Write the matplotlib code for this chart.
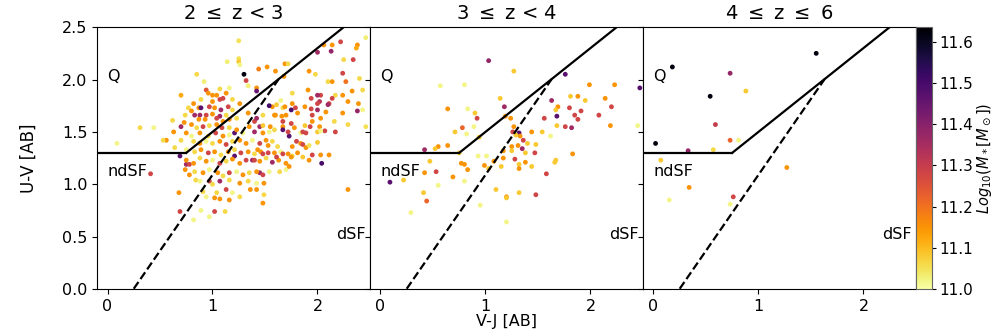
import numpy as np
import matplotlib
matplotlib.use("Agg")
import matplotlib.pyplot as plt

# ---- dados ----
# painel 1: 2 <= z < 3
vj_1 = [1.25, 2.46, 2.22, 2.06, 2.14, 2.00, 2.13, 2.38, 2.37, 2.34, 2.25, 1.25, 1.25, 1.26, 1.14, 1.30,
        1.32, 1.34, 1.42, 1.42, 1.44, 1.52, 1.60, 1.69, 1.72, 1.68, 0.85, 0.92, 0.87, 0.89, 0.83, 0.70,
        1.92, 1.98, 2.10, 2.14, 2.24, 2.27, 2.40, 2.43, 2.33, 2.24, 2.17, 2.14, 2.03, 2.00, 1.94, 1.91,
        1.76, 2.29, 2.39, 2.11, 2.02, 2.38, 2.24, 2.46, 2.16, 1.95, 1.79, 1.67, 1.65, 1.57, 1.54, 2.00,
        1.95, 2.02, 2.07, 2.17, 2.29, 1.93, 1.89, 1.84, 1.78, 1.84, 1.86, 1.76, 1.73, 1.72, 1.75, 1.67,
        1.70, 1.60, 1.75, 2.03, 2.11, 1.92, 1.95, 2.04, 1.89, 2.29, 1.81,
        0.09, 0.31, 0.44, 0.41, 0.62, 0.63, 0.56, 0.53, 0.69, 0.64, 0.75, 0.78, 0.78, 0.84, 0.68, 0.69,
        0.82, 0.89, 0.97, 1.02, 1.12, 1.02, 1.07, 1.16, 1.36, 1.42, 1.48, 1.49, 1.49, 1.45, 1.38, 1.21,
        1.21,
        0.94, 0.96, 1.00, 1.04, 1.07, 1.10, 1.13, 1.16, 0.89, 1.00, 1.07, 1.19, 1.26, 0.82, 0.77, 0.97,
        1.02, 1.08, 1.19, 1.15, 0.74, 0.80, 0.88, 0.94, 1.00, 1.07, 1.13, 0.87, 0.93, 1.04, 1.10, 1.16,
        1.23, 0.70, 0.73, 0.80, 0.85, 0.91, 0.97, 1.04, 1.09, 1.16, 1.23, 1.29, 1.35, 1.40, 1.45, 0.75,
        0.80, 0.88, 0.96, 1.03, 1.10, 1.16, 0.70, 0.82, 0.88, 0.94, 1.00, 1.07, 1.13, 1.19, 1.26, 1.32,
        1.38, 1.45, 1.51, 1.57, 1.62, 1.48, 1.54, 1.59, 1.67, 1.42, 1.34, 1.48, 0.75, 0.83, 0.89, 0.96,
        1.02, 1.08, 1.15, 1.21, 1.27, 1.34, 1.40, 1.46, 1.53, 1.59, 1.65, 1.72, 0.75, 0.82, 0.88, 0.94,
        1.00, 1.07, 1.13, 1.19, 1.26, 1.32, 1.45, 1.51, 1.57, 1.63, 1.70, 1.76, 0.74, 0.83, 0.91, 0.97,
        1.05, 1.10, 1.16, 1.23, 1.29, 1.35, 1.42, 1.48, 1.54, 1.64, 1.70, 1.73, 0.88, 0.97, 1.07, 1.16,
        1.26, 1.34, 1.42, 1.00, 0.91, 0.94, 1.13, 1.19, 1.26, 1.04,
        1.76, 1.81, 1.88, 1.94, 2.00, 2.10, 2.08, 2.43, 2.03, 1.86, 1.88, 2.00, 2.03, 1.80, 1.92, 2.00,
        1.86, 1.75, 1.67, 1.61, 1.48, 1.40, 1.43, 1.53, 1.61, 1.69, 1.59, 1.66, 1.48, 1.40, 1.55, 1.67]
uv_1 = [2.37, 2.40, 2.36, 2.33, 2.33, 2.26, 2.27, 2.33, 2.30, 2.19, 2.19, 2.20, 2.17, 2.14, 2.17, 2.05,
        1.99, 1.94, 1.92, 1.89, 2.10, 2.12, 2.08, 2.15, 2.15, 2.03, 2.05, 1.98, 1.73, 1.73, 1.66, 1.85,
        2.08, 2.05, 1.98, 1.98, 2.06, 1.98, 2.01, 1.90, 1.89, 1.85, 1.85, 1.82, 1.85, 1.85, 1.82, 1.90,
        1.87, 1.79, 1.77, 1.77, 1.79, 1.70, 1.68, 1.55, 1.60, 1.60, 1.73, 1.73, 1.80, 1.74, 1.75, 1.71,
        1.66, 1.55, 1.51, 1.50, 1.57, 1.55, 1.49, 1.49, 1.54, 1.39, 1.38, 1.36, 1.46, 1.50, 1.58, 1.60,
        1.66, 1.66, 1.71, 1.28, 1.28, 1.23, 1.28, 1.20, 1.35, 0.95, 1.30,
        1.39, 1.54, 1.54, 1.10, 1.61, 1.50, 1.42, 1.42, 1.27, 1.35, 1.19, 1.19, 1.09, 1.04, 0.92, 0.74,
        0.66, 0.75, 0.69, 0.74, 0.74, 0.87, 0.86, 0.85, 0.95, 0.95, 0.82, 0.90, 1.01, 1.11, 1.23, 1.27,
        1.49,
        1.90, 1.87, 1.85, 1.85, 1.91, 1.82, 1.87, 1.92, 1.81, 1.79, 1.81, 1.81, 1.77, 1.77, 1.73, 1.74,
        1.73, 1.71, 1.71, 1.74, 1.66, 1.70, 1.66, 1.66, 1.67, 1.65, 1.66, 1.62, 1.62, 1.63, 1.60, 1.62,
        1.63, 1.55, 1.59, 1.57, 1.54, 1.55, 1.56, 1.57, 1.54, 1.54, 1.52, 1.49, 1.55, 1.60, 1.55, 1.49,
        1.46, 1.49, 1.46, 1.49, 1.46, 1.47, 1.42, 1.41, 1.39, 1.41, 1.39, 1.41, 1.38, 1.41, 1.42, 1.39,
        1.42, 1.39, 1.42, 1.41, 1.36, 1.49, 1.50, 1.52, 1.55, 1.63, 1.68, 1.66, 1.33, 1.31, 1.33, 1.30,
        1.31, 1.28, 1.31, 1.33, 1.30, 1.31, 1.29, 1.31, 1.30, 1.30, 1.31, 1.29, 1.23, 1.20, 1.25, 1.22,
        1.23, 1.20, 1.22, 1.24, 1.20, 1.23, 1.22, 1.25, 1.21, 1.23, 1.20, 1.27, 1.14, 1.12, 1.11, 1.14,
        1.11, 1.08, 1.11, 1.12, 1.09, 1.11, 1.12, 1.09, 1.12, 1.12, 1.14, 1.17, 1.03, 1.03, 1.03, 1.04,
        1.01, 1.03, 1.01, 1.00, 0.93, 0.88, 0.95, 0.92, 0.88, 0.92,
        1.77, 1.68, 1.74, 1.72, 1.77, 1.76, 1.69, 1.71, 1.63, 1.50, 1.56, 1.50, 1.51, 1.41, 1.37, 1.40,
        1.26, 1.26, 1.29, 1.26, 1.29, 1.23, 1.33, 1.37, 1.76, 1.74, 1.66, 1.65, 1.56, 1.50, 1.55, 1.52]
lm_1 = [11.05, 11.03, 11.28, 11.15, 11.15, 11.36, 11.38, 11.15, 11.12, 11.28, 11.06, 11.05, 11.08, 11.02, 11.03, 11.62,
        11.28, 11.03, 11.15, 11.45, 11.18, 11.15, 11.15, 11.15, 11.06, 11.15, 11.06, 11.03, 11.15, 11.47, 11.36, 11.12,
        11.15, 11.06, 11.06, 11.15, 11.28, 11.20, 11.06, 11.06, 11.15, 11.15, 11.06, 11.28, 11.28, 11.36, 11.28, 11.15,
        11.06, 11.15, 11.15, 11.28, 11.32, 11.38, 11.15, 11.05, 11.06, 11.15, 11.28, 11.06, 11.02, 11.15, 11.50, 11.36,
        11.28, 11.15, 11.28, 11.28, 11.06, 11.28, 11.28, 11.02, 11.15, 11.15, 11.28, 11.15, 11.47, 11.28, 11.28, 11.28,
        11.15, 11.15, 11.50, 11.15, 11.15, 11.15, 11.28, 11.50, 11.15, 11.15, 11.15,
        11.02, 11.06, 11.02, 11.28, 11.06, 11.15, 11.15, 11.06, 11.47, 11.06, 11.36, 11.28, 11.15, 11.06, 11.15, 11.28,
        11.02, 11.02, 11.02, 11.28, 11.06, 11.15, 11.15, 11.15, 11.15, 11.15, 11.15, 11.06, 11.15, 11.36, 11.36, 11.47,
        11.47,
        11.25, 11.15, 11.15, 11.15, 11.06, 11.28, 11.15, 11.02, 11.06, 11.15, 11.28, 11.06, 11.15, 11.15, 11.06, 11.28,
        11.15, 11.36, 11.06, 11.28, 11.06, 11.15, 11.36, 11.28, 11.15, 11.36, 11.06, 11.15, 11.15, 11.28, 11.15, 11.15,
        11.06, 11.36, 11.15, 11.15, 11.06, 11.28, 11.06, 11.15, 11.28, 11.06, 11.15, 11.02, 11.15, 11.28, 11.36, 11.15,
        11.02, 11.15, 11.06, 11.28, 11.15, 11.02, 11.06, 11.06, 11.15, 11.02, 11.06, 11.15, 11.28, 11.06, 11.15, 11.15,
        11.02, 11.28, 11.15, 11.06, 11.06, 11.15, 11.02, 11.06, 11.15, 11.36, 11.15, 11.06, 11.02, 11.06, 11.15, 11.28,
        11.15, 11.06, 11.15, 11.06, 11.28, 11.15, 11.06, 11.15, 11.28, 11.15, 11.02, 11.15, 11.15, 11.15, 11.06, 11.15,
        11.02, 11.28, 11.06, 11.15, 11.15, 11.28, 11.15, 11.06, 11.36, 11.15, 11.15, 11.06, 11.15, 11.06, 11.15, 11.02,
        11.15, 11.06, 11.28, 11.02, 11.15, 11.06, 11.15, 11.28, 11.02, 11.06, 11.02, 11.15, 11.02, 11.28, 11.36, 11.06,
        11.15, 11.06, 11.02, 11.06, 11.06, 11.02, 11.28, 11.02, 11.06, 11.06,
        11.15, 11.15, 11.15, 11.28, 11.28, 11.36, 11.15, 11.02, 11.15, 11.28, 11.08, 11.08, 11.02, 11.28, 11.05, 11.08,
        11.08, 11.15, 11.28, 11.28, 11.28, 11.28, 11.15, 11.15, 11.08, 11.15, 11.15, 11.15, 11.08, 11.36, 11.15, 11.47]

# painel 2: 3 <= z < 4
vj_2 = [1.03, 1.27, 1.76, 0.57, 0.80, 1.99, 2.23, 2.47, 1.14, 1.81, 1.88, 1.63, 1.95, 2.14, 0.64, 0.83,
        0.90, 1.18, 1.69, 1.67, 1.80, 1.91, 1.85, 2.20, 2.08, 0.92, 1.19, 1.24, 1.56, 1.88, 1.68, 0.71,
        0.78, 0.82, 0.89, 0.94, 0.64, 0.55, 0.42, 0.52, 1.27, 1.32, 1.33, 1.29, 1.26, 1.44, 1.54, 1.62,
        1.68, 1.76, 1.82, 2.19, 2.45, 1.36, 1.40, 1.48, 1.31, 1.35, 1.25, 1.17, 1.25, 1.47, 1.38, 1.28,
        1.38, 1.32, 1.32, 1.44, 1.66, 1.67, 1.83, 0.93, 1.01, 0.75, 0.77, 0.80, 0.83, 0.99, 1.03, 1.15,
        1.08, 1.17, 1.58, 0.47, 0.42, 0.53, 0.69, 0.80, 0.22, 0.09, 0.55, 0.41, 0.44, 0.29, 1.10, 1.20,
        1.20, 1.32, 1.48, 0.95, 1.20]
uv_2 = [2.18, 2.08, 2.05, 1.94, 1.95, 1.95, 1.95, 1.92, 1.82, 1.84, 1.84, 1.80, 1.80, 1.82, 1.72, 1.72,
        1.68, 1.74, 1.74, 1.71, 1.73, 1.70, 1.66, 1.74, 1.66, 1.63, 1.65, 1.63, 1.63, 1.62, 1.65, 1.50,
        1.54, 1.48, 1.55, 1.45, 1.37, 1.36, 1.33, 1.34, 1.55, 1.49, 1.46, 1.47, 1.50, 1.50, 1.50, 1.46,
        1.56, 1.55, 1.54, 1.56, 1.56, 1.42, 1.39, 1.38, 1.37, 1.34, 1.36, 1.32, 1.32, 1.30, 1.30, 1.24,
        1.21, 1.19, 1.15, 1.17, 1.21, 1.23, 1.29, 1.27, 1.27, 1.30, 1.20, 1.19, 1.14, 1.18, 1.15, 1.17,
        1.22, 1.25, 1.10, 1.22, 1.11, 1.12, 1.07, 1.03, 1.04, 1.02, 0.99, 0.92, 0.84, 0.73, 0.95, 0.88,
        0.87, 0.92, 0.90, 0.80, 0.64]
lm_2 = [11.38, 11.08, 11.47, 11.02, 11.02, 11.15, 11.15, 11.48, 11.08, 11.08, 11.15, 11.36, 11.08, 11.15, 11.15, 11.02,
        11.08, 11.36, 11.15, 11.08, 11.28, 11.28, 11.28, 11.28, 11.28, 11.28, 11.15, 11.15, 11.28, 11.28, 11.47, 11.08,
        11.22, 11.02, 11.02, 11.08, 11.15, 11.15, 11.36, 11.08, 11.15, 11.47, 11.15, 11.08, 11.28, 11.15, 11.08, 11.02,
        11.08, 11.28, 11.36, 11.15, 11.02, 11.28, 11.08, 11.08, 11.15, 11.36, 11.15, 11.15, 11.08, 11.28, 11.08, 11.28,
        11.15, 11.08, 11.15, 11.08, 11.08, 11.08, 11.15, 11.02, 11.02, 11.08, 11.15, 11.15, 11.15, 11.15, 11.08, 11.08,
        11.15, 11.15, 11.28, 11.08, 11.15, 11.28, 11.15, 11.02, 11.08, 11.47, 11.02, 11.08, 11.22, 11.02, 11.08, 11.15,
        11.08, 11.08, 11.28, 11.02, 11.02]

# painel 3: 4 <= z <= 6
vj_3 = [0.18, 1.55, 0.73, 0.88, 0.54, 0.59, 0.02, 0.33, 0.57, 0.73, 0.81, 0.07, 1.27, 0.34, 0.15, 0.76, 0.73]
uv_3 = [2.12, 2.25, 2.06, 1.89, 1.84, 1.57, 1.39, 1.32, 1.33, 1.42, 1.42, 1.23, 1.16, 0.97, 0.85, 0.88, 0.81]
lm_3 = [11.62, 11.62, 11.38, 11.08, 11.62, 11.30, 11.62, 11.38, 11.06, 11.22, 11.02, 11.08, 11.15, 11.15, 11.02, 11.28, 11.02]

titulos = ["2 $\\leq$ z < 3", "3 $\\leq$ z < 4", "4 $\\leq$ z $\\leq$ 6"]
vmin, vmax = 11.0, 11.635

# ---- figura ----
fig = plt.figure(figsize=(9.97, 3.34), dpi=100)
left, bottom, w, h = 0.0973, 0.1347, 0.2738, 0.784
axes = []
for i in range(3):
    if i == 0:
        ax = fig.add_axes([left + i * w, bottom, w, h])
    else:
        ax = fig.add_axes([left + i * w, bottom, w, h], sharey=axes[0])
    axes.append(ax)

dados = [(vj_1, uv_1, lm_1), (vj_2, uv_2, lm_2), (vj_3, uv_3, lm_3)]

# fronteiras UVJ
xs_h = np.array([-0.1, 0.75])
xs_d = np.array([0.75, 2.25])
xs_dash = np.array([0.25, 1.63])

for ax, (x, y, m), tit in zip(axes, dados, titulos):
    sc = ax.scatter(x, y, c=m, cmap="inferno_r", vmin=vmin, vmax=vmax,
                    s=12, linewidths=0, zorder=2)
    ax.plot(xs_h, [1.3, 1.3], "k-", lw=1.6, zorder=3)
    ax.plot(xs_d, 0.8 * xs_d + 0.7, "k-", lw=1.6, zorder=3)
    ax.plot(xs_dash, 1.45 * xs_dash - 0.36, "k--", lw=1.6, zorder=3)
    ax.text(0.0, 2.03, "Q", fontsize=11.5, va="center")
    ax.text(0.0, 1.12, "ndSF", fontsize=11.5, va="center")
    ax.text(2.18, 0.52, "dSF", fontsize=11.5, va="center")
    ax.set_xlim(-0.1, 2.5)
    ax.set_ylim(0, 2.5)
    ax.set_xticks([0, 1, 2])
    ax.set_title(tit, fontsize=14)
    ax.tick_params(labelsize=11.5)

for ax in axes[1:]:
    ax.tick_params(labelleft=False)

axes[0].set_ylabel("U-V [AB]", fontsize=12, labelpad=17)
axes[1].set_xlabel("V-J [AB]", fontsize=11.5, labelpad=0)

cax = fig.add_axes([0.9188, bottom, 0.016, h])
cb = fig.colorbar(sc, cax=cax)
cb.set_label("$Log_{10}(M_*[M_\\odot])$", fontsize=10.5, labelpad=2)
cb.ax.tick_params(labelsize=11, length=3, pad=2)
cb.outline.set_edgecolor("0.4")
cb.outline.set_linewidth(0.8)

fig.savefig("out.png", dpi=100)
